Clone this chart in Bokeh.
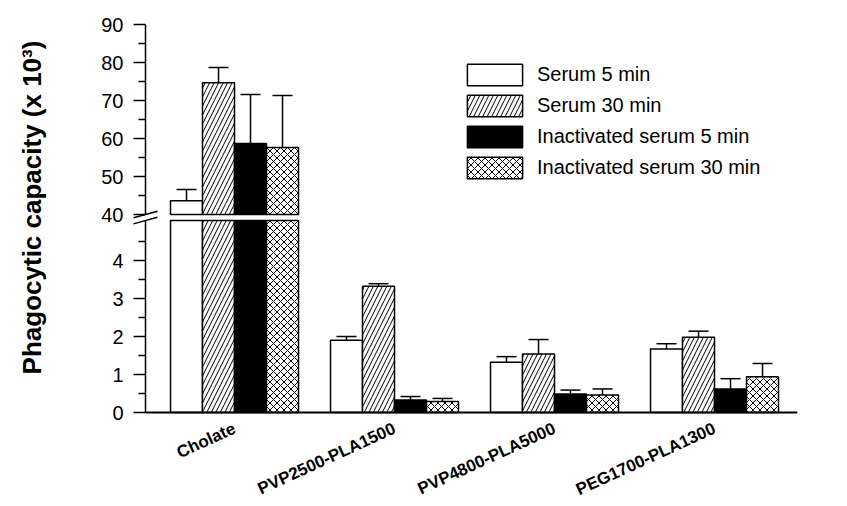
import numpy as np
from bokeh.plotting import figure
from bokeh.models import (Range1d, FixedTicker, ColumnDataSource, Legend,
                          LegendItem, Arrow, LinearAxis, Label)
from bokeh.transform import dodge
from bokeh.embed import file_html
from bokeh.resources import INLINE

# ---------------- data ----------------
groups = ["Cholate", "PVP2500-PLA1500", "PVP4800-PLA5000", "PEG1700-PLA1300"]
series_names = ["Serum 5 min", "Serum 30 min",
                "Inactivated serum 5 min", "Inactivated serum 30 min"]

serum_5 = [43.6, 1.90, 1.32, 1.67]
serum_5_err = [3.0, 0.10, 0.15, 0.14]
serum_30 = [74.7, 3.32, 1.54, 1.98]
serum_30_err = [4.0, 0.07, 0.38, 0.16]
inact_5 = [58.7, 0.33, 0.49, 0.62]
inact_5_err = [12.9, 0.09, 0.10, 0.27]
inact_30 = [57.6, 0.29, 0.46, 0.94]
inact_30_err = [13.7, 0.08, 0.16, 0.35]

upper_ticks = [40, 50, 60, 70, 80, 90]
upper_minor = [45, 55, 65, 75, 85]
lower_ticks = [0, 1, 2, 3, 4]
lower_minor = [0.5, 1.5, 2.5, 3.5, 4.5]

y_title = "Phagocytic capacity (x 10\u00b3)"

# ---------------- scale / layout constants ----------------
X_AXIS, X_END = 0.44375, 4.51875   # x where the y axes stand, right end of x axis
UP_MIN, UP_MAX = 40, 90            # upper (broken) segment of the y axis
LOW_MIN, LOW_MAX = 0, 5.05         # lower segment of the y axis
PX_X = 160.0                       # pixels per group
PX_LOW = 38.0                      # pixels per unit, lower segment
PX_UP = 3.8                        # pixels per unit, upper segment
AXIS_PX = 145                      # frame pixels left of the y axis
FRAME_H = 505                      # frame height
BASE_PX = 412                      # baseline, pixels from frame top
UP_ORIGIN_PX = 214                 # upper segment origin (40), pixels from frame top
BAR_W = 0.2
FONT = "Liberation Sans"

gx = np.arange(1, len(groups) + 1, dtype=float)

low_start = LOW_MIN - (FRAME_H - BASE_PX) / PX_LOW
up_start = UP_MIN - (FRAME_H - UP_ORIGIN_PX) / PX_UP
p = figure(width=840, height=FRAME_H,
           x_range=Range1d(X_AXIS - AXIS_PX / PX_X, X_END),
           y_range=Range1d(low_start, low_start + FRAME_H / PX_LOW),
           x_axis_location=None, y_axis_location=None,
           min_border_left=0, min_border_right=43,
           min_border_top=0, min_border_bottom=0,
           output_backend="svg", toolbar_location=None,
           outline_line_color=None)
p.extra_y_ranges = {"up": Range1d(up_start, up_start + FRAME_H / PX_UP)}
p.xgrid.visible = False
p.ygrid.visible = False

series = [
    (series_names[0], serum_5, serum_5_err, "white", None, 9, -0.3),
    (series_names[1], serum_30, serum_30_err, "white", "/", 9, -0.1),
    (series_names[2], inact_5, inact_5_err, "black", None, 9, 0.1),
    (series_names[3], inact_30, inact_30_err, "white", "x", 7, 0.3),
]

legend_items = []
for name, vals, errs, fill, hatch, hscale, off in series:
    vals = np.array(vals, dtype=float)
    errs = np.array(errs, dtype=float)
    upp = vals + errs
    bar_kw = dict(width=BAR_W, fill_color=fill, line_color="black",
                  line_width=1.5, hatch_pattern=hatch, hatch_color="black",
                  hatch_weight=1, hatch_scale=hscale)
    xd = dodge("x", off, range=p.x_range)

    # lower segment (0 .. 5)
    src_l = ColumnDataSource(dict(x=gx, top=np.minimum(vals, LOW_MAX)))
    r = p.vbar(x=xd, top="top", bottom=LOW_MIN, source=src_l, **bar_kw)
    me = upp < LOW_MAX
    src_e = ColumnDataSource(dict(x=gx[me], top=vals[me], upper=upp[me]))
    p.segment(x0=xd, y0="top", x1=xd, y1="upper", source=src_e,
              line_color="black", line_width=1.5)
    p.scatter(x=xd, y="upper", marker="dash", size=20, source=src_e,
              line_color="black", line_width=1.5)

    # upper segment (40 .. 90)
    m = vals > UP_MIN
    src_u = ColumnDataSource(dict(x=gx[m], top=vals[m], upper=upp[m]))
    p.vbar(x=xd, top="top", bottom=UP_MIN, source=src_u,
           y_range_name="up", **bar_kw)
    p.segment(x0=xd, y0="top", x1=xd, y1="upper", source=src_u,
              line_color="black", line_width=1.5, y_range_name="up")
    p.scatter(x=xd, y="upper", marker="dash", size=20, source=src_u,
              line_color="black", line_width=1.5, y_range_name="up")
    legend_items.append(LegendItem(label=name, renderers=[r]))

legend = Legend(items=legend_items, location=(460, FRAME_H - 61 - 120),
                orientation="vertical",
                glyph_width=69, glyph_height=27, label_height=22, spacing=4,
                label_standoff=8, padding=0, margin=0,
                border_line_color=None, background_fill_alpha=0,
                label_text_font=FONT, label_text_font_size="20px",
                label_text_color="black")
p.add_layout(legend)


def style_y(ax, ticks, minor, bounds):
    ax.ticker = FixedTicker(ticks=ticks, minor_ticks=minor)
    ax.bounds = bounds
    ax.major_tick_out = 12
    ax.major_tick_in = 0
    ax.minor_tick_out = 7
    ax.minor_tick_in = 0
    ax.axis_line_width = 1.5
    ax.major_tick_line_width = 1.5
    ax.minor_tick_line_width = 1.5
    ax.axis_line_color = "black"
    ax.major_tick_line_color = "black"
    ax.minor_tick_line_color = "black"
    ax.major_label_standoff = 10
    ax.major_label_text_font = FONT
    ax.major_label_text_font_size = "20px"
    ax.major_label_text_color = "black"


low_axis = LinearAxis(fixed_location=X_AXIS)
style_y(low_axis, lower_ticks, lower_minor, (LOW_MIN, LOW_MAX))
p.add_layout(low_axis, "left")
up_axis = LinearAxis(y_range_name="up", fixed_location=X_AXIS)
style_y(up_axis, upper_ticks, upper_minor, (UP_MIN, UP_MAX))
p.add_layout(up_axis, "left")

# x axis
xa = LinearAxis(fixed_location=LOW_MIN)
xa.ticker = FixedTicker(ticks=list(gx))
xa.bounds = (X_AXIS, X_END)
xa.major_label_overrides = {float(g): lab for g, lab in zip(gx, groups)}
xa.major_label_orientation = 0.43
xa.major_tick_line_color = None
xa.minor_tick_line_color = None
xa.major_tick_out = 0
xa.major_tick_in = 0
xa.axis_line_width = 2
xa.axis_line_color = "black"
xa.major_label_standoff = 15
xa.major_label_text_font = FONT
xa.major_label_text_font_style = "bold"
xa.major_label_text_font_size = "17px"
xa.major_label_text_color = "black"
p.add_layout(xa, "below")

# axis break marks
p.add_layout(Arrow(end=None, x_start=X_AXIS - 12 / PX_X, y_start=UP_MIN - 3.3 / PX_UP,
                   x_end=X_AXIS + 12 / PX_X, y_end=UP_MIN + 3.3 / PX_UP,
                   y_range_name="up", line_color="black", line_width=1.5))
p.add_layout(Arrow(end=None, x_start=X_AXIS - 12 / PX_X, y_start=LOW_MAX - 3.3 / PX_LOW,
                   x_end=X_AXIS + 12 / PX_X, y_end=LOW_MAX + 3.3 / PX_LOW,
                   line_color="black", line_width=1.5))

# y-axis title
p.add_layout(Label(x=X_AXIS - 114 / PX_X, y=LOW_MIN + 205 / PX_LOW, text=y_title,
                   angle=np.pi / 2, text_align="center", text_baseline="middle",
                   text_font=FONT, text_font_style="bold", text_font_size="26px",
                   text_color="black"))

open("out.html", "w").write(file_html(p, INLINE))
